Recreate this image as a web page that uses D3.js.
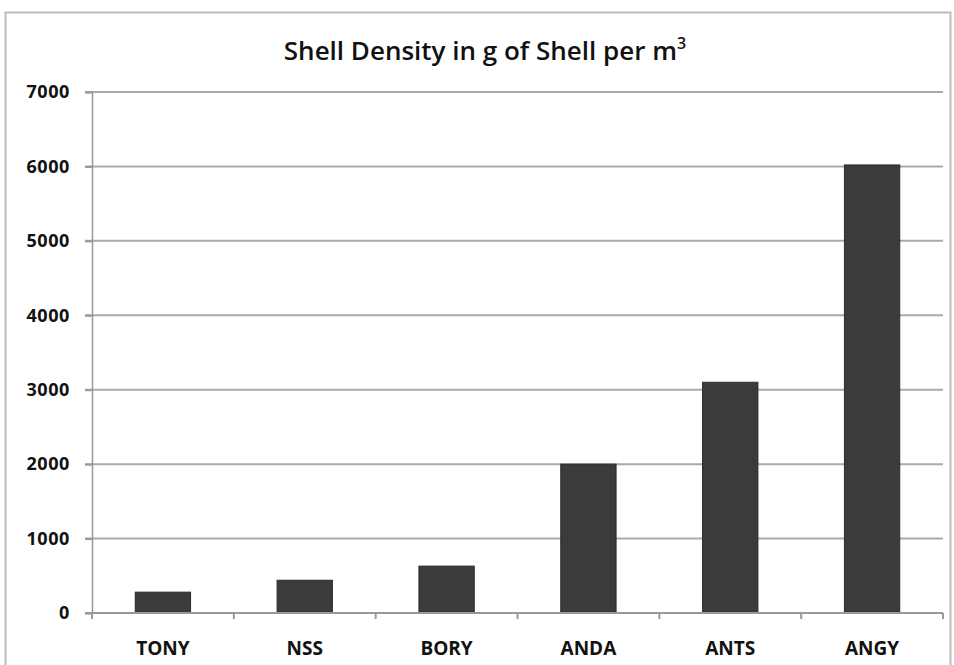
<!DOCTYPE html>
<html>
<head>
<meta charset="utf-8">
<script src="https://cdn.jsdelivr.net/npm/d3@7"></script>
<style>
  body { margin: 0; background: #fff; }
  text { font-family: "Open Sans", sans-serif; fill: #111; }
</style>
</head>
<body>
<div id="chart"></div>
<script>
const width = 954;
const height = 665;

const sites = ["TONY", "NSS", "BORY", "ANDA", "ANTS", "ANGY"];
const density = [280, 440, 630, 2000, 3100, 6020];
const yTicks = [0, 1000, 2000, 3000, 4000, 5000, 6000, 7000];

const margin = { top: 92, right: 11, bottom: 52, left: 92 };

const svg = d3.select("#chart").append("svg")
    .attr("width", width)
    .attr("height", height);

// outer frame of the chart
svg.append("rect")
    .attr("x", 5.5).attr("y", 12.5)
    .attr("width", width - 9).attr("height", height)
    .attr("fill", "none")
    .attr("stroke", "#bbb")
    .attr("stroke-width", 2);

const x = d3.scaleBand()
    .domain(sites)
    .range([margin.left, width - margin.right])
    .paddingInner(0.61)
    .paddingOuter(0.305);

const y = d3.scaleLinear()
    .domain([0, 7000])
    .range([height - margin.bottom, margin.top]);

// gridlines with tick stubs
svg.append("g")
    .selectAll("line")
    .data(yTicks.slice(1))
    .enter().append("line")
    .attr("x1", margin.left - 7)
    .attr("x2", width - margin.right)
    .attr("y1", d => y(d))
    .attr("y2", d => y(d))
    .attr("stroke", "#aaa")
    .attr("stroke-width", 2);

// y axis
const yAxis = svg.append("g")
    .attr("transform", `translate(${margin.left},0)`)
    .call(d3.axisLeft(y).tickValues(yTicks).tickFormat(d3.format("d")).tickSize(7).tickPadding(15));
yAxis.select(".domain").attr("stroke", "#999").attr("stroke-width", 1.5);
yAxis.selectAll(".tick line").attr("stroke", "#999").attr("stroke-width", 2);
yAxis.selectAll("text")
    .attr("font-size", 18).attr("font-weight", 700)
    .attr("letter-spacing", 0.6)
    .attr("fill", "#111")
    .style("font-family", "Open Sans, sans-serif");

// bars
svg.append("g")
    .selectAll("rect")
    .data(sites)
    .enter().append("rect")
    .attr("x", d => x(d))
    .attr("width", x.bandwidth())
    .attr("y", (d, i) => y(density[i]))
    .attr("height", (d, i) => y(0) - y(density[i]))
    .attr("fill", "#3b3b3b")
    .attr("stroke", "#2a2a2a")
    .attr("stroke-width", 1);

// x axis with boundary ticks
const xAxis = svg.append("g")
    .attr("transform", `translate(0,${y(0)})`);
xAxis.append("line")
    .attr("x1", margin.left - 7).attr("x2", width - margin.right)
    .attr("stroke", "#999").attr("stroke-width", 2);
const step = x.step();
xAxis.selectAll(".bt")
    .data(d3.range(sites.length + 1))
    .enter().append("line")
    .attr("x1", i => margin.left + i * step)
    .attr("x2", i => margin.left + i * step)
    .attr("y1", 0).attr("y2", 6)
    .attr("stroke", "#999").attr("stroke-width", 2);
xAxis.selectAll(".lab")
    .data(sites)
    .enter().append("text")
    .attr("x", d => x(d) + x.bandwidth() / 2)
    .attr("y", 42)
    .attr("text-anchor", "middle")
    .attr("font-size", 19)
    .attr("font-weight", 700)
    .text(d => d);

// title
const title = svg.append("text")
    .attr("x", 485)
    .attr("y", 60)
    .attr("text-anchor", "middle")
    .attr("font-size", 26)
    .attr("font-weight", 600);
title.append("tspan").text("Shell Density in g of Shell per m");
title.append("tspan").attr("font-size", 16).attr("dy", -11).text("3");
</script>
</body>
</html>
